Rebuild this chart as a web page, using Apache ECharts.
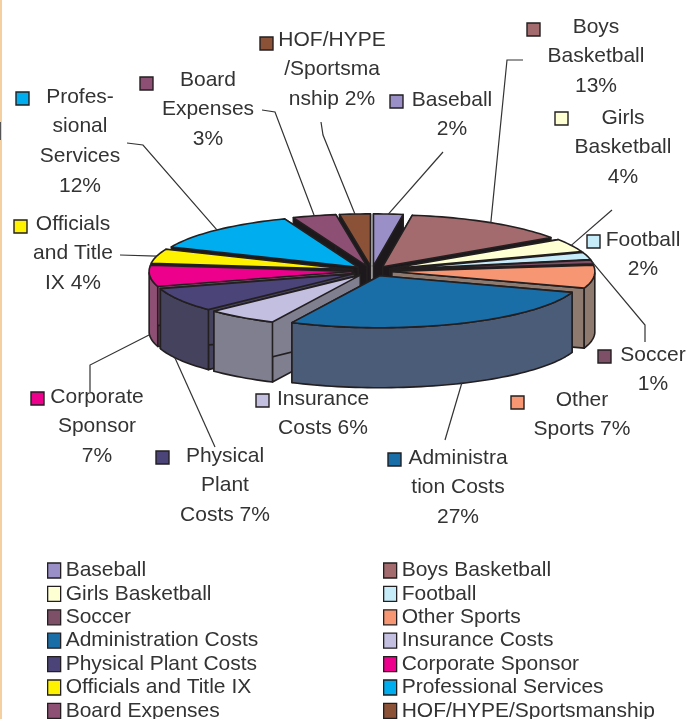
<!DOCTYPE html>
<html><head><meta charset="utf-8">
<style>html,body{margin:0;padding:0;background:#fff}#c{width:698px;height:719px}</style>
<script src="https://cdn.jsdelivr.net/npm/echarts@6/dist/echarts.min.js"></script></head>
<body><div id="c"></div>
<script>
const categories=['Baseball','Boys Basketball','Girls Basketball','Football','Soccer','Other Sports','Administration Costs','Insurance Costs','Physical Plant Costs','Corporate Sponsor','Officials and Title IX','Professional Services','Board Expenses','HOF/HYPE/Sportsmanship'];
const percents=[2.3,13,4,2.2,1.2,7,26.5,5.6,7.4,6.5,4.4,12.49,3.4,2.4];
const colors=['#9a8fc6','#a36b6d','#ffffd4','#c6ecfa','#7d5068','#f79672','#1a6ea8','#c3bfe0','#4a4478','#ec008c','#fff200','#00aeef','#8d4f73','#8b5238'];
const sideColors=['#6f6890','#7f5a5c','#b0b090','#90a8b0','#6a4a5c','#8f7a70','#4a5c78','#7f7f8f','#45425e','#8d4f73','#9a9440','#2a6a90','#6a4058','#6a4030'];
const labelLines=[['Baseball','2%'],['Boys','Basketball','13%'],['Girls','Basketball','4%'],['Football','2%'],['Soccer','1%'],['Other','Sports 7%'],['Administra','tion Costs','27%'],['Insurance','Costs 6%'],['Physical','Plant','Costs 7%'],['Corporate','Sponsor','7%'],['Officials','and Title','IX 4%'],['Profes-','sional','Services','12%'],['Board','Expenses','3%'],['HOF/HYPE','/Sportsma','nship 2%']];

// layout only: text centre, first line y, key position, leader elbow points
const labelLayout=[
 {x:452,y:100,kx:396,ky:101,lead:[[443,152]],f:.5,wall:0},
 {x:596,y:27,kx:533,ky:29,lead:[[523,60],[507,60]],f:.5,wall:0},
 {x:623,y:118,kx:561,ky:118,lead:[[612,210]],f:.5,wall:0},
 {x:643,y:240,kx:593,ky:241},
 {x:653,y:355,kx:604,ky:356,lead:[[645,342],[645,325]],f:.5,wall:0},
 {x:582,y:400,kx:517,ky:402},
 {x:458,y:458,kx:394,ky:459,lead:[[445,440]],f:.49,wall:1},
 {x:323,y:399,kx:262,ky:400},
 {x:225,y:456,kx:162,ky:457,lead:[[215,447]],f:.6,wall:1},
 {x:97,y:397,kx:37,ky:398,lead:[[90,392],[90,365]],f:.55,wall:1},
 {x:73,y:224,kx:20,ky:226,lead:[[120,255]],f:.5,wall:0},
 {x:80,y:97,kx:22,ky:98,lead:[[127,143],[143,145]],f:.5,wall:0},
 {x:208,y:80,kx:146,ky:83,lead:[[262,110],[275,112]],f:.5,wall:0},
 {x:332,y:40,kx:266,ky:43,lead:[[321,122],[323,135]],f:.5,wall:0}
];
const PIE={cx:372,cy:271,rx:203,ry:52,depth:60,explode:20};
const LINE=29.6, FONT='21px "Liberation Sans"', INK='#333';

const total=percents.reduce((a,b)=>a+b,0);
const startFrac=percents.map((_,i)=>percents.slice(0,i).reduce((a,b)=>a+b,0)/total);
const ratio=PIE.ry/PIE.rx;
function apex(i,v){
  const mid=(startFrac[i]+v/total/2)*2*Math.PI;
  return [PIE.cx+PIE.explode*Math.sin(mid),PIE.cy-PIE.explode*ratio*Math.cos(mid)];
}
function rim(a0,ang){return [a0[0]+PIE.rx*Math.sin(ang),a0[1]-PIE.ry*Math.cos(ang)];}
function down(p){return [p[0],p[1]+PIE.depth];}
function sliceRender(i){
  return function(params,api){
    const v=api.value(0);
    const a0=apex(i,v);
    const s=startFrac[i]*2*Math.PI,e=s+v/total*2*Math.PI;
    const arc=[];const N=Math.max(6,Math.ceil((e-s)/0.03));
    for(let k=0;k<=N;k++)arc.push(rim(a0,s+(e-s)*k/N));
    const stroke={stroke:'#231f20',lineWidth:1.6,lineJoin:'round'};
    const kids=[];
    const mid=(s+e)/2;
    const wallFill=Math.cos(mid)>-0.05?'#1c181c':sideColors[i];
    const wall=p=>({type:'polygon',shape:{points:[a0,p,down(p),down(a0)]},style:Object.assign({fill:wallFill},stroke)});
    kids.push(wall(arc[0]),wall(arc[N]));
    const front=[];
    for(let k=0;k<=N;k++){const t=s+(e-s)*k/N;if(Math.cos(t)<=0)front.push(arc[k]);}
    if(front.length>1){
      const low=front.map(down).reverse();
      kids.push({type:'polygon',shape:{points:front.concat(low)},style:Object.assign({fill:sideColors[i]},stroke)});
    }
    kids.push({type:'polygon',shape:{points:[a0].concat(arc)},style:Object.assign({fill:colors[i]},stroke)});
    return {type:'group',children:kids};
  };
}
function labelRender(params,api){
  const i=params.dataIndex,L=labelLayout[i],v=api.value(0);
  const kids=[{type:'rect',shape:{x:L.kx-6,y:L.ky-6,width:13,height:13},style:{fill:colors[i],stroke:'#231f20',lineWidth:1.4}}];
  labelLines[i].forEach((t,k)=>kids.push({type:'text',x:L.x,y:L.y+k*LINE,style:{text:t,font:FONT,fill:INK,align:'center',verticalAlign:'middle'}}));
  if(L.lead){
    const a0=apex(i,v);
    let p=rim(a0,(startFrac[i]+L.f*v/total)*2*Math.PI);
    if(L.wall)p=down(p);
    kids.push({type:'polyline',shape:{points:L.lead.concat([p])},style:{fill:'none',stroke:'#333',lineWidth:1.2}});
  }
  return {type:'group',children:kids};
}
const order=categories.map((_,i)=>i).sort((a,b)=>Math.cos((startFrac[b]+percents[b]/total/2)*2*Math.PI)-Math.cos((startFrac[a]+percents[a]/total/2)*2*Math.PI));
const series=order.map((i,rank)=>({
  type:'custom',name:categories[i],coordinateSystem:'none',z:2+rank*0.01,silent:true,
  itemStyle:{color:colors[i]},data:[[percents[i]]],renderItem:sliceRender(i),animation:false,clip:false
}));
series.push({type:'custom',name:'labels',coordinateSystem:'none',z:5,silent:true,animation:false,data:percents.map(p=>[p]),renderItem:labelRender});
const legendBase={orient:'vertical',icon:'rect',itemWidth:13,itemHeight:15,itemGap:2.4,top:560,height:230,padding:0,selectedMode:false,
  textStyle:{fontFamily:'Liberation Sans',fontSize:21,color:INK},itemStyle:{borderColor:'#231f20',borderWidth:1.3}};
const chart=echarts.init(document.getElementById('c'),null,{renderer:'canvas'});
chart.setOption({
  animation:false,backgroundColor:'#fff',
  legend:[Object.assign({},legendBase,{left:47,data:categories.filter((_,i)=>i%2==0)}),Object.assign({},legendBase,{left:383,data:categories.filter((_,i)=>i%2==1)})],
  graphic:[{type:'rect',left:0,top:0,shape:{width:2,height:719},style:{fill:'#f4cf9f'},silent:true},
           {type:'rect',left:0,top:122,shape:{width:1,height:18},style:{fill:'#555'},silent:true}],
  series
});
</script></body></html>
